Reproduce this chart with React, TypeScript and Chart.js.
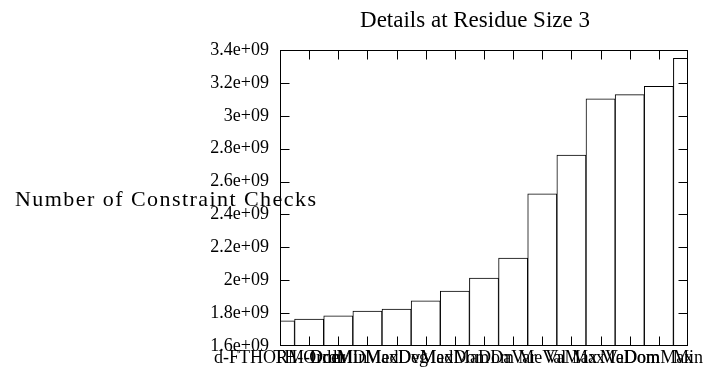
import React, { useEffect, useRef } from "react";
import { Chart, registerables } from "chart.js";

Chart.register(...registerables);

const chartTitle = "Details at Residue Size 3";
const yAxisTitle = "Number of Constraint Checks";

const categories = [
  "d-FTHORM-Dom",
  "TH-Order",
  "OrdMin",
  "MDMed",
  "MaxDeg",
  "DvMed",
  "MaxDom",
  "MaDom",
  "DaVar",
  "MeVal",
  "VaMax",
  "MaxVal",
  "MeDom",
  "DomMax",
  "Min",
];

const constraintChecks = [
  1.753e9, 1.764e9, 1.784e9, 1.812e9, 1.825e9, 1.875e9, 1.934e9, 2.013e9,
  2.135e9, 2.525e9, 2.761e9, 3.103e9, 3.129e9, 3.179e9, 3.35e9,
];

const yMin = 1.6e9;
const yMax = 3.4e9;
const yStep = 0.2e9;

const SERIF = "'Liberation Serif', 'Times New Roman', serif";

function formatTick(v: number): string {
  const m = Math.round(v / 1e8) / 10;
  return `${m}e+09`;
}

const decorPlugin = {
  id: "decor",
  afterDatasetsDraw(chart: any) {
    const { ctx, chartArea: a, scales } = chart;
    const L = Math.round(a.left) + 0.5;
    const R = Math.round(a.right) - 0.5;
    const T = Math.round(a.top) + 0.5;
    const B = Math.round(a.bottom) - 0.5;
    const tl = 9;
    ctx.save();
    ctx.strokeStyle = "#000";
    ctx.lineWidth = 1;
    ctx.beginPath();
    const ys = scales.y;
    for (const t of ys.ticks) {
      if (t.value <= yMin + 1 || t.value >= yMax - 1) continue;
      const py = Math.round(ys.getPixelForValue(t.value)) + 0.5;
      ctx.moveTo(L, py);
      ctx.lineTo(L + tl, py);
      ctx.moveTo(R, py);
      ctx.lineTo(R - tl, py);
    }
    const xs = scales.x;
    for (let i = 1; i < categories.length - 1; i++) {
      const px = Math.round(xs.getPixelForValue(i)) + 0.5;
      ctx.moveTo(px, B);
      ctx.lineTo(px, B - tl);
      ctx.moveTo(px, T);
      ctx.lineTo(px, T + tl);
    }
    ctx.stroke();
    ctx.strokeRect(L, T, R - L, B - T);
    ctx.restore();
  },
  afterDraw(chart: any) {
    const { ctx } = chart;
    ctx.save();
    ctx.fillStyle = "#000";
    ctx.font = `23px ${SERIF}`;
    ctx.textAlign = "center";
    ctx.textBaseline = "alphabetic";
    ctx.fillText(chartTitle, 475, 27);

    ctx.font = `22px ${SERIF}`;
    ctx.textAlign = "left";
    const w = ctx.measureText(yAxisTitle).width;
    const target = 301;
    const ls = Math.max(0, (target - w) / (yAxisTitle.length - 1));
    (ctx as any).letterSpacing = `${ls}px`;
    ctx.fillText(yAxisTitle, 15, 206);
    ctx.restore();
  },
};

export default function App() {
  const ref = useRef<HTMLCanvasElement | null>(null);
  useEffect(() => {
    if (!ref.current) return;
    const chart = new Chart(ref.current, {
      type: "bar",
      data: {
        labels: categories,
        datasets: [
          {
            data: constraintChecks,
            backgroundColor: "#ffffff",
            borderColor: "#000000",
            borderWidth: 1,
            barPercentage: 1,
            categoryPercentage: 1,
          },
        ],
      },
      options: {
        responsive: false,
        maintainAspectRatio: false,
        animation: false,
        devicePixelRatio: 1,
        layout: { padding: { top: 50, right: 16, left: 0, bottom: 0 } },
        plugins: {
          legend: { display: false },
          title: { display: false },
          tooltip: { enabled: false },
        },
        scales: {
          x: {
            type: "category",
            offset: false,
            grid: { display: false, drawTicks: false },
            border: { display: false },
            ticks: {
              autoSkip: false,
              maxRotation: 0,
              minRotation: 0,
              padding: 1,
              color: "#000",
              font: { family: SERIF, size: 18 },
            },
            afterFit: (s: any) => {
              s.height = 24;
              s.paddingLeft = 0;
              s.paddingRight = 0;
            },
          },
          y: {
            min: yMin,
            max: yMax,
            grid: { display: false, drawTicks: false },
            border: { display: false },
            ticks: {
              stepSize: yStep,
              padding: 11,
              color: "#000",
              font: { family: SERIF, size: 18 },
              callback: (v: any) => formatTick(Number(v)),
            },
            afterFit: (s: any) => {
              s.width = 280;
            },
          },
        },
      },
      plugins: [decorPlugin],
    });
    return () => chart.destroy();
  }, []);
  return (
    <div style={{ position: "fixed", left: 0, top: 0, width: 704, height: 370, background: "#fff" }}>
      <canvas ref={ref} width={704} height={370} style={{ width: 704, height: 370 }} />
    </div>
  );
}
